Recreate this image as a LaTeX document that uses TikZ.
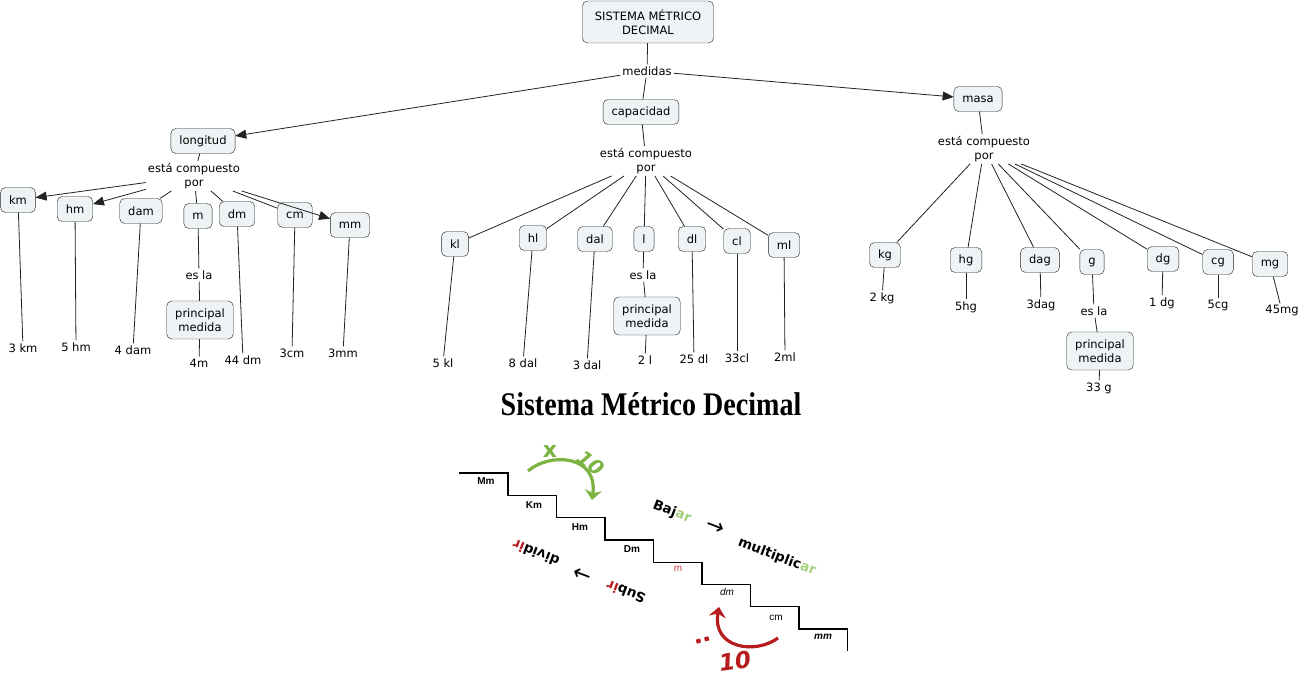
\documentclass[tikz,border=0pt]{standalone}
\usepackage{fontspec}
\usepackage{graphicx}
\setmainfont{DejaVu Sans}
\newfontfamily\titlefont{Liberation Serif}
\newfontfamily\stairfont{Liberation Sans}
\usepackage{tikz}
\usetikzlibrary{arrows.meta}
\definecolor{boxfill}{HTML}{EEF3F5}
\definecolor{linegray}{HTML}{222222}
\definecolor{lgreen}{HTML}{7CB342}
\definecolor{argreen}{HTML}{A3CF7D}
\definecolor{dred}{HTML}{B71C1C}
\definecolor{stairred}{HTML}{D8403B}
\newcommand{\mapsize}{\fontsize{11.5}{14}\selectfont}

\begin{document}
\begin{tikzpicture}[x=1pt,y=-1pt,
    concept/.style={draw=linegray, fill=boxfill, rounded corners=5pt, inner xsep=8.5pt,
      inner ysep=4pt, minimum height=25pt, font=\mapsize, align=center},
    phrase/.style={inner sep=2pt, font=\mapsize, align=center},
    conn/.style={draw=linegray, line width=0.8pt},
    arr/.style={conn, -{Triangle[length=11pt,width=9pt]}},
    stepname/.style={font=\stairfont\fontsize{10}{10}\selectfont},
    bigword/.style={inner sep=1pt, font=\bfseries\fontsize{13.5}{14}\selectfont}]
        \path[fill=white] (0,0) rectangle (1304,700);

        \node[concept, minimum width=131pt, minimum height=42pt] (sis) at (648,22) {SISTEMA MÉTRICO\\DECIMAL};
        \node[phrase] (medidas) at (647,71) {medidas};
        \node[concept] (lon) at (203,141) {longitud};
        \node[concept] (cap) at (641,112) {capacidad};
        \node[concept] (masa) at (978,99) {masa};
        \node[phrase] (lonPor) at (194,176) {está compuesto\\por};
        \node[phrase] (capPor) at (646,161) {está compuesto\\por};
        \node[phrase] (masaPor) at (984,149) {está compuesto\\por};

        % longitud
        \node[concept] (km) at (18,200) {km};
        \node[concept] (hm) at (75,209) {hm};
        \node[concept] (dam) at (141,211) {dam};
        \node[concept] (m) at (198,216) {m};
        \node[concept] (dm) at (237,214) {dm};
        \node[concept] (cm) at (295,215) {cm};
        \node[concept] (mm) at (350,225) {mm};
        \node[phrase] (kmVal) at (23,348) {3 km};
        \node[phrase] (hmVal) at (76,347) {5 hm};
        \node[phrase] (damVal) at (133,350) {4 dam};
        \node[phrase] (mEsla) at (199,275) {es la};
        \node[concept, minimum height=38pt] (mPrin) at (200,320) {principal\\medida};
        \node[phrase] (mVal) at (199,363) {4m};
        \node[phrase] (dmVal) at (243,360) {44 dm};
        \node[phrase] (cmVal) at (292,353) {3cm};
        \node[phrase] (mmVal) at (343,353) {3mm};

        % capacidad
        \node[concept] (kl) at (455,244) {kl};
        \node[concept] (hl) at (533,238) {hl};
        \node[concept] (dal) at (595,239) {dal};
        \node[concept] (l) at (644,239) {l};
        \node[concept] (dl) at (692,239) {dl};
        \node[concept] (cl) at (737,241) {cl};
        \node[concept] (ml) at (784,245) {ml};
        \node[phrase] (klVal) at (443,363) {5 kl};
        \node[phrase] (hlVal) at (523,363) {8 dal};
        \node[phrase] (dalVal) at (587,365) {3 dal};
        \node[phrase] (lEsla) at (643,275) {es la};
        \node[concept, minimum height=38pt] (lPrin) at (647,316) {principal\\medida};
        \node[phrase] (lVal) at (645,360) {2 l};
        \node[phrase] (dlVal) at (694,359) {25 dl};
        \node[phrase] (clVal) at (737,358) {33cl};
        \node[phrase] (mlVal) at (785,357) {2ml};

        % masa
        \node[concept] (kg) at (885,255) {kg};
        \node[concept] (hg) at (966,260) {hg};
        \node[concept] (dag) at (1040,260) {dag};
        \node[concept] (g) at (1092,262) {g};
        \node[concept] (dg) at (1163,259) {dg};
        \node[concept] (cg) at (1218,262) {cg};
        \node[concept] (mg) at (1270,264) {mg};
        \node[phrase] (kgVal) at (882,298) {2 kg};
        \node[phrase] (hgVal) at (966,307) {5hg};
        \node[phrase] (dagVal) at (1041,305) {3dag};
        \node[phrase] (gEsla) at (1094,311) {es la};
        \node[concept, minimum height=38pt] (gPrin) at (1100,351) {principal\\medida};
        \node[phrase] (gVal) at (1099,388) {33 g};
        \node[phrase] (dgVal) at (1162,303) {1 dg};
        \node[phrase] (cgVal) at (1218,306) {5cg};
        \node[phrase] (mgVal) at (1282,311) {45mg};

        \draw[conn] (sis) -- (medidas);
        \draw[conn] (medidas) -- (cap);
        \draw[arr] (medidas) -- (lon);
        \draw[arr] (medidas) -- (masa);
        \draw[conn] (lon) -- (lonPor);
        \draw[conn] (cap) -- (capPor);
        \draw[conn] (masa) -- (masaPor);

        \draw[arr] (lonPor) -- (km);
        \draw[arr] (lonPor) -- (hm);
        \draw[conn] (lonPor) -- (dam);
        \draw[conn] (lonPor) -- (m);
        \draw[conn] (lonPor) -- (dm);
        \draw[conn] (lonPor) -- (cm);
        \draw[arr] (lonPor) -- (mm);
        \draw[conn] (km) -- (kmVal);
        \draw[conn] (hm) -- (hmVal);
        \draw[conn] (dam) -- (damVal);
        \draw[conn] (m) -- (mEsla);
        \draw[conn] (mEsla) -- (mPrin);
        \draw[conn] (mPrin) -- (mVal);
        \draw[conn] (dm) -- (dmVal);
        \draw[conn] (cm) -- (cmVal);
        \draw[conn] (mm) -- (mmVal);

        \draw[conn] (capPor) -- (kl);
        \draw[conn] (capPor) -- (hl);
        \draw[conn] (capPor) -- (dal);
        \draw[conn] (capPor) -- (l);
        \draw[conn] (capPor) -- (dl);
        \draw[conn] (capPor) -- (cl);
        \draw[conn] (capPor) -- (ml);
        \draw[conn] (kl) -- (klVal);
        \draw[conn] (hl) -- (hlVal);
        \draw[conn] (dal) -- (dalVal);
        \draw[conn] (l) -- (lEsla);
        \draw[conn] (lEsla) -- (lPrin);
        \draw[conn] (lPrin) -- (lVal);
        \draw[conn] (dl) -- (dlVal);
        \draw[conn] (cl) -- (clVal);
        \draw[conn] (ml) -- (mlVal);

        \draw[conn] (masaPor) -- (kg);
        \draw[conn] (masaPor) -- (hg);
        \draw[conn] (masaPor) -- (dag);
        \draw[conn] (masaPor) -- (g);
        \draw[conn] (masaPor) -- (dg);
        \draw[conn] (masaPor) -- (cg);
        \draw[conn] (masaPor) -- (mg);
        \draw[conn] (kg) -- (kgVal);
        \draw[conn] (hg) -- (hgVal);
        \draw[conn] (dag) -- (dagVal);
        \draw[conn] (g) -- (gEsla);
        \draw[conn] (gEsla) -- (gPrin);
        \draw[conn] (gPrin) -- (gVal);
        \draw[conn] (dg) -- (dgVal);
        \draw[conn] (cg) -- (cgVal);
        \draw[conn] (mg) -- (mgVal);

        % the staircase picture
        \node[anchor=base] (title) at (651,416)
          {\scalebox{0.85}[1]{\titlefont\bfseries\fontsize{33}{33}\selectfont Sistema Métrico Decimal}};
        \draw[line width=1.3pt] (459,473) -- (508,473) -- (508,495.3) -- (556.5,495.3) -- (556.5,517.6)
          -- (605,517.6) -- (605,539.9) -- (653.5,539.9) -- (653.5,562.2) -- (702,562.2) -- (702,584.5)
          -- (750.5,584.5) -- (750.5,606.8) -- (799,606.8) -- (799,629.1) -- (847.5,629.1) -- (847.5,651.4);
        \node[stepname, font=\stairfont\bfseries\fontsize{10}{10}\selectfont] (Mm) at (486,481) {Mm};
        \node[stepname, font=\stairfont\bfseries\fontsize{10}{10}\selectfont] (Km) at (534,505) {Km};
        \node[stepname, font=\stairfont\bfseries\fontsize{10}{10}\selectfont] (Hm) at (580,527) {Hm};
        \node[stepname, font=\stairfont\bfseries\fontsize{10}{10}\selectfont] (Dm) at (632,549) {Dm};
        \node[stepname, text=stairred] (mStep) at (678,569) {m};
        \node[stepname, font=\stairfont\itshape\fontsize{10}{10}\selectfont] (dmStep) at (727,592) {dm};
        \node[stepname] (cmStep) at (776,618) {cm};
        \node[stepname, font=\stairfont\bfseries\itshape\fontsize{10}{10}\selectfont] (mmStep) at (823,637) {mm};

        % arrows round the steps
        \draw[line width=3.2pt, lgreen, -{Stealth[length=10pt,width=17pt]}]
          (528,471) .. controls (550,452) and (598,455) .. (592,500);
        \node[text=lgreen, font=\bfseries\fontsize{22}{22}\selectfont] (times) at (550,451) {x};
        \node[text=lgreen, rotate=-38, font=\bfseries\itshape\fontsize{20}{20}\selectfont] (tenDown) at (591,463) {10};
        \draw[line width=3.2pt, dred, -{Stealth[length=10pt,width=17pt]}]
          (778,638) .. controls (755,655) and (712,648) .. (719,607);
        \node[text=dred, rotate=-75, font=\bfseries\fontsize{24}{24}\selectfont] (divSign) at (703,640) {:};
        \node[text=dred, rotate=8, font=\bfseries\itshape\fontsize{23}{23}\selectfont] (tenUp) at (735,661) {10};

        \node[bigword, rotate=-21] (bajar) at (672,512) {Baj\textcolor{argreen}{ar}};
        \node[rotate=-21, inner sep=0pt, font=\fontsize{22}{22}\selectfont] (toMulti) at (715,527) {→};
        \node[bigword, rotate=-21] (multi) at (777,557) {multiplic\textcolor{argreen}{ar}};
        \node[bigword, rotate=159] (subir) at (626,592) {Sub\textcolor{dred}{ir}};
        \node[rotate=159, inner sep=0pt, font=\fontsize{22}{22}\selectfont] (toDiv) at (583,574) {→};
        \node[bigword, rotate=159] (dividir) at (536,553) {divid\textcolor{dred}{ir}};
    \end{tikzpicture}
\end{document}
